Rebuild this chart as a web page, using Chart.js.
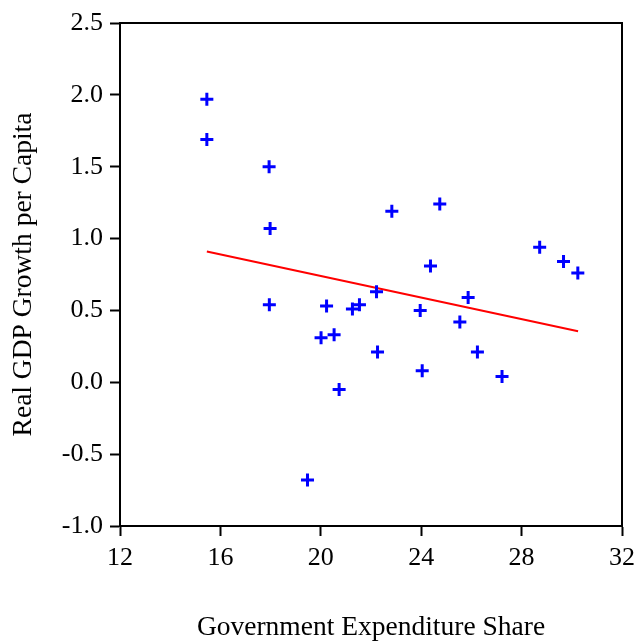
<!DOCTYPE html>
<html>
<head>
<meta charset="utf-8">
<script src="https://cdn.jsdelivr.net/npm/chart.js@4/dist/chart.umd.min.js"></script>
<style>
  body { margin: 0; background: #fff; }
</style>
</head>
<body>
<canvas id="myChart" width="635" height="644"></canvas>
<script>
// government expenditure share (x) and real gdp growth per capita (y)
const govShare = [15.46, 15.46, 17.94, 17.98, 17.95, 19.47, 20.01, 20.23, 20.53, 20.73,
  21.26, 21.54, 22.22, 22.26, 22.83, 23.96, 24.04, 24.37, 24.74, 25.54,
  25.87, 26.24, 27.22, 28.72, 29.67, 30.24]
const gdpGrowth = [1.97, 1.69, 1.50, 1.07, 0.54, -0.68, 0.31, 0.53, 0.33, -0.05,
  0.51, 0.54, 0.63, 0.21, 1.19, 0.50, 0.08, 0.81, 1.24, 0.42,
  0.59, 0.21, 0.04, 0.94, 0.84, 0.76]
// fitted line ends
const fitX = [15.46, 30.25]
const fitY = [0.91, 0.355]

const xTicks = [12, 16, 20, 24, 28, 32]
const yTicks = [-1.0, -0.5, 0.0, 0.5, 1.0, 1.5, 2.0, 2.5]

const FONT = "'Liberation Serif', 'Times New Roman', serif"

// box around plot area
const frame = {
  id: 'frame',
  afterDraw(chart) {
    const a = chart.chartArea
    const ctx = chart.ctx
    ctx.save()
    ctx.strokeStyle = '#000'
    ctx.lineWidth = 2
    ctx.strokeRect(a.left, a.top, a.right - a.left, a.bottom - a.top)
    ctx.restore()
  }
}

function updateGraph() {
  var ctx = document.getElementById('myChart').getContext('2d')
  var chart = new Chart(ctx, {
    type: 'scatter',
    data: {
      datasets: [{
        label: 'data',
        data: govShare.map((x, i) => ({ x: x, y: gdpGrowth[i] })),
        pointStyle: 'cross',
        pointRadius: 6.5,
        pointBorderWidth: 3,
        borderColor: 'rgb(0, 0, 255)',
        backgroundColor: 'rgb(0, 0, 255)'
      }, {
        type: 'line',
        label: 'fit',
        data: fitX.map((x, i) => ({ x: x, y: fitY[i] })),
        borderColor: 'rgb(255, 0, 0)',
        borderWidth: 2,
        pointRadius: 0,
        fill: false
      }]
    },
    options: {
      responsive: false,
      animation: false,
      layout: { padding: { top: 23, right: 13, left: 0, bottom: 0 } },
      plugins: { legend: { display: false }, tooltip: { enabled: false } },
      scales: {
        x: {
          type: 'linear',
          min: 12, max: 32,
          afterBuildTicks: s => { s.ticks = xTicks.map(v => ({ value: v })) },
          afterFit: s => { s.height = 118; s.paddingLeft = 0; s.paddingRight = 0 },
          grid: { drawOnChartArea: false, drawTicks: true, tickLength: 10, tickWidth: 2, color: '#000' },
          border: { color: '#000', width: 2 },
          ticks: { color: '#000', padding: 7, font: { family: FONT, size: 26 } },
          title: {
            display: true, text: 'Government Expenditure Share', color: '#000',
            font: { family: FONT, size: 27.5 }, padding: { top: 0, bottom: 0 }
          }
        },
        y: {
          type: 'linear',
          min: -1, max: 2.5,
          afterBuildTicks: s => { s.ticks = yTicks.map(v => ({ value: v })) },
          afterFit: s => { s.width = 120; s.paddingTop = 0; s.paddingBottom = 0 },
          grid: { drawOnChartArea: false, drawTicks: true, tickLength: 10, tickWidth: 2, color: '#000' },
          border: { color: '#000', width: 2 },
          ticks: {
            color: '#000', padding: 7, font: { family: FONT, size: 26 },
            callback: v => v.toFixed(1)
          },
          title: {
            display: true, text: 'Real GDP Growth per Capita', color: '#000',
            font: { family: FONT, size: 27.5 }, padding: { top: 7, bottom: 0 }
          }
        }
      }
    },
    plugins: [frame]
  })
}

updateGraph()
</script>
</body>
</html>
